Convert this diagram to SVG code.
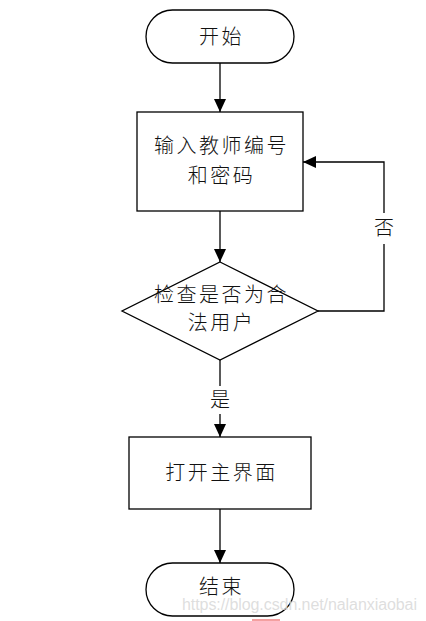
<svg xmlns="http://www.w3.org/2000/svg" width="426" height="621" viewBox="0 0 426 621">
<style>
.s{fill:#fff;stroke:#000;stroke-width:1.3}
.t{font-family:"Noto Sans CJK SC","Noto Sans CJK JP",sans-serif;font-size:20px;font-weight:300;fill:#111;text-anchor:middle;letter-spacing:2.5px}
.c{fill:none;stroke:#000;stroke-width:1.3}
</style>
<defs>
<marker id="a" viewBox="0 0 13 12" refX="13" refY="6" markerWidth="13" markerHeight="12" markerUnits="userSpaceOnUse" orient="auto">
<path d="M0,0 L13,6 L0,12 Z" fill="#000"/>
</marker>
</defs>
<rect width="426" height="621" fill="#fff"/>
<g id="connectors">
<line class="c" x1="220" y1="63" x2="220" y2="112" marker-end="url(#a)"/>
<line class="c" x1="220" y1="211" x2="220" y2="262" marker-end="url(#a)"/>
<polyline class="c" points="318,311 384,311 384,162 303,162" marker-end="url(#a)"/>
<line class="c" x1="220" y1="360" x2="220" y2="437" marker-end="url(#a)"/>
<line class="c" x1="220" y1="509" x2="220" y2="563" marker-end="url(#a)"/>
<rect x="374" y="213" width="20" height="31" fill="#fff"/>
<text class="t" x="384" y="235" style="letter-spacing:0">否</text>
<rect x="208" y="386" width="24" height="28" fill="#fff"/>
<text class="t" x="220" y="407" style="letter-spacing:0">是</text>
</g>
<g id="start">
<rect class="s" x="146" y="10" width="148" height="53" rx="26.5"/>
<text class="t" x="221.5" y="44">开始</text>
</g>
<g id="input">
<rect class="s" x="137" y="112" width="166" height="99"/>
<text class="t" x="221.5" y="153">输入教师编号</text>
<text class="t" x="221.5" y="183">和密码</text>
</g>
<g id="check">
<polygon class="s" points="220,262 318,311 220,360 122,311"/>
<text class="t" x="221.5" y="302">检查是否为合</text>
<text class="t" x="221.5" y="330">法用户</text>
</g>
<g id="main">
<rect class="s" x="129" y="437" width="182" height="72"/>
<text class="t" x="221.5" y="480">打开主界面</text>
</g>
<g id="end">
<rect class="s" x="146" y="563" width="148" height="53" rx="26.5"/>
<text class="t" x="221.5" y="594">结束</text>
</g>
<text x="182" y="610" font-family="Liberation Sans, Arial, sans-serif" font-size="16" fill="#d8d8d8" fill-opacity="0.85" textLength="235">https://blog.csdn.net/nalanxiaobai</text>
<line x1="252" y1="620" x2="280" y2="620" stroke="#f4a0a0" stroke-width="2"/>
</svg>
